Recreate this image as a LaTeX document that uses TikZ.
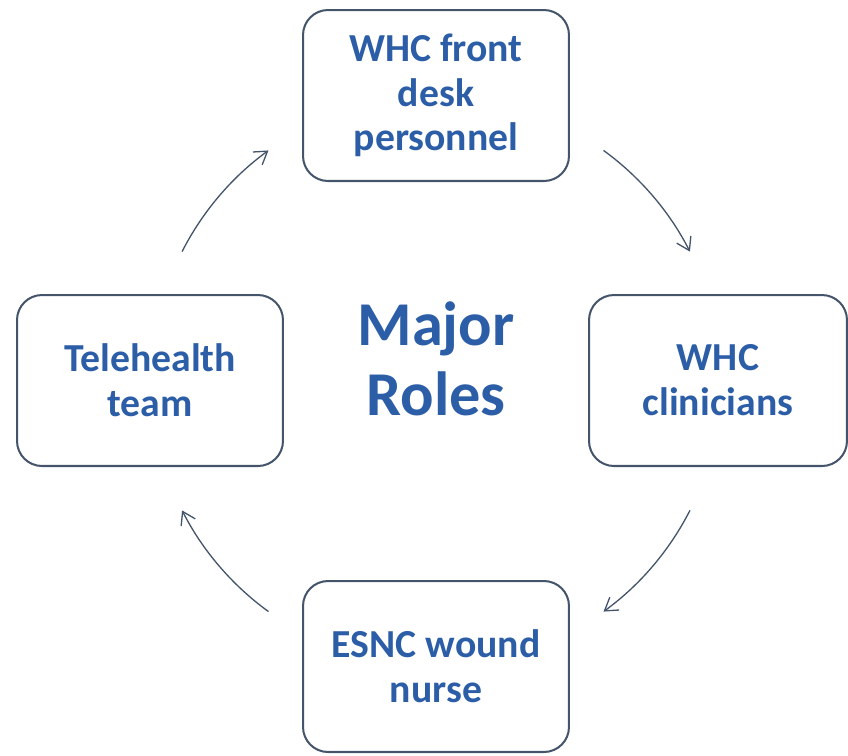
\documentclass[tikz,border=0pt]{standalone}
\usepackage{fontspec}
\setmainfont{Carlito}
\usetikzlibrary{calc}
\usetikzlibrary{arrows.meta}
\definecolor{roleblue}{RGB}{44,93,167}
\definecolor{roleline}{RGB}{68,84,106}

\begin{document}
\begin{tikzpicture}[x=0.02cm, y=0.02cm,
    every node/.append style={font=\fontsize{22.6}{25.5}\selectfont\bfseries, text=roleblue, align=center},
    role/.style={draw=roleline, line width=1.15pt, rounded corners=0.5cm, minimum width=5.32cm, minimum height=3.42cm},
    cycle/.style={draw=roleline, line width=0.75pt, -{Straight Barb[length=7pt, width=9pt]}}]
    \useasboundingbox (0,0) rectangle (848,-755);
    \coordinate (C) at (436,-381);
    \node[role] (R1) at (436,-95.5) {WHC front\\desk\\personnel};
    \node[role, minimum width=5.16cm] (R2) at (718,-380.5) {WHC\\clinicians};
    \node[role] (R3) at (436,-666.5) {ESNC wound\\nurse};
    \node[role] (R4) at (150,-380.5) {Telehealth\\team};
    \node[font=\fontsize{35.5}{39.7}\selectfont\bfseries] (M) at (436,-359) {Major\\Roles};
    \coordinate (A1) at ($(C)+(54:285)$);
    \coordinate (A2) at ($(C)+(-27:285)$);
    \coordinate (A3) at ($(C)+(234:285)$);
    \coordinate (A4) at ($(C)+(153:285)$);
    \draw[cycle] (A1) arc[start angle=54, end angle=27, radius=285];
    \draw[cycle] (A2) arc[start angle=-27, end angle=-54, radius=285];
    \draw[cycle] (A3) arc[start angle=234, end angle=207, radius=285];
    \draw[cycle] (A4) arc[start angle=153, end angle=126, radius=285];
  \end{tikzpicture}
\end{document}
